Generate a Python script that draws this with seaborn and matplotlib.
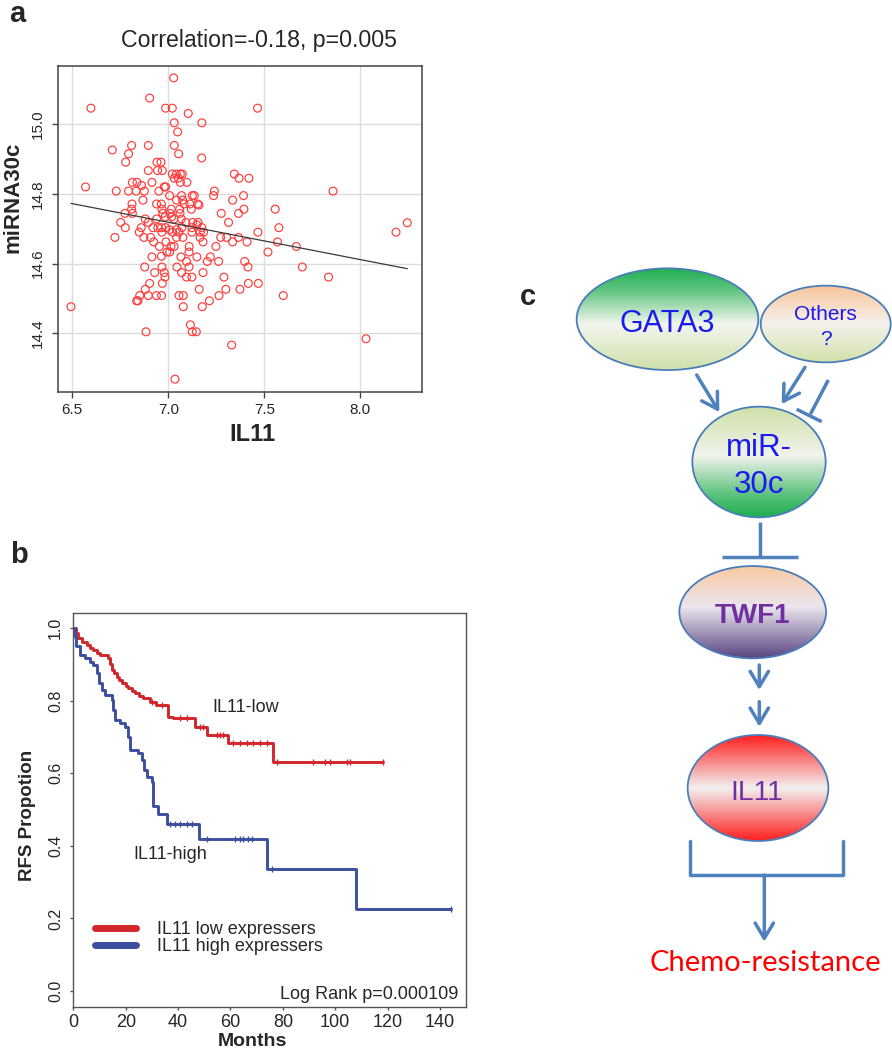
import numpy as np
import matplotlib
matplotlib.use('Agg')
import matplotlib.pyplot as plt
import seaborn as sns
import pandas as pd
from matplotlib.patches import Ellipse, FancyArrowPatch
from matplotlib.colors import LinearSegmentedColormap

sns.set_style('ticks')
plt.rcParams['font.family'] = ['Liberation Sans', 'DejaVu Sans']

# ---- panel a: IL11 vs miRNA30c ----
il11 = [7.028, 6.903, 6.597, 6.986, 7.021, 7.465, 7.104, 7.031, 7.175, 7.049,
        6.708, 6.809, 6.896, 7.031, 6.793, 7.054, 6.778, 7.174, 6.941, 6.962,
        6.896, 6.944, 6.969, 7.021, 7.042, 7.063, 7.073, 7.344, 7.368, 7.420,
        6.569, 6.813, 6.837, 6.861, 6.915, 7.031, 7.052, 7.063, 7.097, 6.986,
        6.979, 6.729, 6.793, 6.833, 6.875, 6.951, 7.240, 7.236, 7.858, 7.125,
        7.135, 7.007, 7.069, 6.868, 6.811, 6.939, 6.964, 7.043, 7.075, 7.153,
        7.160, 7.335, 7.392, 6.809, 6.967, 7.016, 7.083, 7.113, 7.120, 7.276,
        7.366, 7.394, 7.557, 6.774, 6.813, 6.972, 7.009, 7.017, 7.059, 7.061,
        6.752, 6.880, 6.939, 6.984, 7.030, 7.068, 7.092, 7.127, 7.155, 7.314,
        7.576, 6.776, 6.859, 6.896, 6.920, 6.946, 6.965, 6.986, 7.007, 7.043,
        7.071, 7.123, 7.149, 7.175, 7.467, 6.722, 6.849, 6.873, 6.908, 6.967,
        7.023, 7.056, 7.076, 7.123, 7.167, 7.184, 7.273, 7.304, 7.366, 7.043,
        7.165, 6.924, 6.988, 7.030, 7.181, 7.335, 7.410, 7.569, 7.667, 6.953,
        7.014, 7.109, 7.248, 7.519, 6.993, 7.007, 6.964, 6.915, 7.108, 7.149,
        7.219, 7.066, 7.095, 7.203, 7.262, 7.398, 6.877, 6.967, 7.045, 7.108,
        7.415, 7.698, 6.929, 6.979, 7.069, 7.181, 6.983, 7.095, 7.123, 7.290,
        7.835, 6.903, 6.969, 7.417, 7.469, 6.880, 7.161, 7.300, 7.373, 6.851,
        6.896, 6.938, 6.965, 7.056, 7.078, 7.264, 7.599, 6.835, 6.842, 7.214,
        6.493, 7.078, 7.177, 7.115, 7.125, 7.146, 6.884, 7.330, 8.030, 7.035,
        8.186, 8.245]
mir30c = [15.133, 15.075, 15.046, 15.046, 15.046, 15.046, 15.031, 15.004, 15.004, 14.978,
          14.926, 14.939, 14.939, 14.939, 14.915, 14.915, 14.891, 14.903, 14.891, 14.891,
          14.867, 14.867, 14.867, 14.857, 14.857, 14.857, 14.857, 14.857, 14.845, 14.845,
          14.820, 14.833, 14.833, 14.824, 14.833, 14.845, 14.845, 14.833, 14.833, 14.820,
          14.820, 14.808, 14.808, 14.808, 14.808, 14.808, 14.808, 14.795, 14.808, 14.795,
          14.795, 14.795, 14.795, 14.782, 14.771, 14.771, 14.771, 14.782, 14.782, 14.771,
          14.768, 14.782, 14.795, 14.756, 14.756, 14.756, 14.771, 14.771, 14.756, 14.744,
          14.744, 14.756, 14.756, 14.744, 14.744, 14.744, 14.744, 14.734, 14.756, 14.744,
          14.718, 14.728, 14.728, 14.734, 14.728, 14.728, 14.718, 14.718, 14.718, 14.718,
          14.703, 14.703, 14.703, 14.718, 14.703, 14.703, 14.703, 14.703, 14.697, 14.697,
          14.703, 14.703, 14.711, 14.703, 14.690, 14.675, 14.690, 14.675, 14.675, 14.690,
          14.690, 14.690, 14.675, 14.690, 14.690, 14.690, 14.675, 14.675, 14.675, 14.675,
          14.675, 14.662, 14.662, 14.649, 14.662, 14.662, 14.662, 14.662, 14.649, 14.649,
          14.649, 14.649, 14.649, 14.633, 14.633, 14.633, 14.621, 14.619, 14.633, 14.619,
          14.619, 14.619, 14.606, 14.606, 14.606, 14.606, 14.590, 14.590, 14.590, 14.590,
          14.590, 14.590, 14.574, 14.574, 14.574, 14.574, 14.561, 14.561, 14.561, 14.561,
          14.561, 14.543, 14.543, 14.543, 14.543, 14.526, 14.526, 14.526, 14.526, 14.508,
          14.508, 14.508, 14.508, 14.508, 14.508, 14.508, 14.508, 14.493, 14.493, 14.493,
          14.476, 14.476, 14.476, 14.424, 14.404, 14.404, 14.404, 14.366, 14.384, 14.268,
          14.690, 14.717]
a_xticks = [6.5, 7.0, 7.5, 8.0]
a_yticks = [14.4, 14.6, 14.8, 15.0]

# ---- panel b: Kaplan-Meier RFS ----
low_t = [0, 1.0, 1.9, 3.5, 5.1, 6.5, 7.6, 9.0, 10.2, 13.4, 14.2, 14.7, 15.5, 16.6, 17.5,
         18.5, 20.0, 21.0, 22.3, 23.6, 25.0, 26.7, 29.3, 31.5, 36.3, 38.2, 46.5, 50.9, 59.2, 76.3]
low_s = [1.0, 0.985, 0.972, 0.962, 0.953, 0.946, 0.939, 0.932, 0.926, 0.917, 0.900, 0.884, 0.875,
         0.866, 0.857, 0.848, 0.841, 0.834, 0.827, 0.820, 0.813, 0.806, 0.797, 0.788, 0.756,
         0.751, 0.728, 0.705, 0.682, 0.632]
low_end = 118.4
low_cens = [30, 34, 40.7, 43.3, 48.4, 49.6, 54.7, 56, 57.3, 61.1, 63.6, 66.2, 68.7, 71.3,
            73.8, 77.6, 91.6, 96.1, 98, 104.4, 105.6, 118.4]

high_t = [0, 0.6, 1.0, 2.6, 4.5, 6.4, 7.6, 8.9, 9.9, 10.8, 12.1, 14.7, 15.3, 15.9, 17.8,
          19.7, 21.0, 21.6, 24.8, 26.1, 26.9, 28.0, 29.9, 30.5, 32.5, 35.6, 48.1, 73.8, 107.9]
high_s = [1.0, 0.976, 0.949, 0.926, 0.917, 0.907, 0.898, 0.875, 0.848, 0.829, 0.815, 0.802,
          0.774, 0.747, 0.737, 0.728, 0.700, 0.664, 0.655, 0.636, 0.610, 0.590, 0.575, 0.509,
          0.489, 0.461, 0.418, 0.337, 0.226]
high_end = 144.1
high_cens = [36.9, 38.8, 40.7, 43.3, 45.2, 50.9, 61.7, 63.6, 64.9, 66.8, 68.1, 75.7, 144.1]

b_xticks = [0, 20, 40, 60, 80, 100, 120, 140]
b_yticks = [0.0, 0.2, 0.4, 0.6, 0.8, 1.0]
group_names = ['IL11 low expressers', 'IL11 high expressers']
RED, BLUE = '#d1262c', '#3c4e9f'

W, H = 892, 1050
fig = plt.figure(figsize=(W / 100, H / 100), dpi=100)


def frac(l, t, r, b):
    return [l / W, 1 - b / H, (r - l) / W, (b - t) / H]


ax_a = fig.add_axes(frac(57.7, 65.7, 421.7, 391.7))
ax_b = fig.add_axes(frac(73.3, 612.7, 465.7, 1006.7))
ov = fig.add_axes([0, 0, 1, 1], zorder=5)
ov.patch.set_alpha(0)

# panel a
ax_a.grid(True, color='#dcdcdc', lw=1.0)
ax_a.set_axisbelow(True)
sns.scatterplot(x=il11, y=mir30c, ax=ax_a, marker='o', s=32, facecolors='none',
                edgecolors='#ff3b3b', linewidth=0.85, zorder=3)
sns.regplot(x=il11, y=mir30c, ax=ax_a, scatter=False, ci=None, truncate=True,
            line_kws=dict(color='#3a3a3a', lw=0.9, zorder=4))
ax_a.set_xlim(6.424, 8.320)
ax_a.set_ylim(14.232, 15.168)
ax_a.set_xticks(a_xticks)
ax_a.set_xticklabels([f'{v:.1f}' for v in a_xticks])
ax_a.set_yticks(a_yticks)
ax_a.set_yticklabels([f'{v:.1f}' for v in a_yticks], rotation=90, va='center')
ax_a.tick_params(direction='out', length=4.3, width=1, color='#444444', labelsize=11)
ax_a.tick_params(axis='x', pad=4)
ax_a.tick_params(axis='y', pad=5)
ax_a.set_xlabel('')
ax_a.set_ylabel('')
for sp in ax_a.spines.values():
    sp.set_visible(True)
    sp.set_color('#444444')
    sp.set_linewidth(1.1)

# panel b
km = []
for name, t, s, end in [(group_names[0], low_t, low_s, low_end),
                        (group_names[1], high_t, high_s, high_end)]:
    km.append(pd.DataFrame({'months': list(t) + [end], 'surv': list(s) + [s[-1]], 'group': name}))
km = pd.concat(km, ignore_index=True)
sns.lineplot(data=km, x='months', y='surv', hue='group', palette=[RED, BLUE],
             estimator=None, sort=False, drawstyle='steps-post', lw=2.1, ax=ax_b, legend=False)


def surv_at(times, t, s):
    idx = np.searchsorted(np.array(t), np.array(times), side='right') - 1
    return np.array(s)[idx]


for cens, t, s, col in [(low_cens, low_t, low_s, RED), (high_cens, high_t, high_s, BLUE)]:
    ax_b.plot(cens, surv_at(cens, t, s), ls='none', marker='|', ms=5, mew=1.0, color=col)

ax_b.set_xlim(0, 149.8)
ax_b.set_ylim(-0.043, 1.042)
ax_b.set_xticks(b_xticks)
ax_b.set_yticks(b_yticks)
ax_b.set_yticklabels([f'{v:.1f}' for v in b_yticks], rotation=90, va='center')
ax_b.tick_params(direction='out', length=2.5, width=1, color='#555555')
ax_b.tick_params(axis='x', labelsize=13, pad=3)
ax_b.tick_params(axis='y', labelsize=11.5, pad=5)
ax_b.set_xlabel('')
ax_b.set_ylabel('')
for sp in ax_b.spines.values():
    sp.set_visible(True)
    sp.set_color('#555555')
    sp.set_linewidth(1.0)
ax_b.text(66.0, 0.768, 'IL11-low', ha='center', va='baseline', fontsize=13)
ax_b.text(37.0, 0.364, 'IL11-high', ha='center', va='baseline', fontsize=13)
ax_b.text(147.0, -0.023, 'Log Rank p=0.000109', ha='right', va='baseline', fontsize=13)

# overlay in pixel coordinates: labels, legend and panel c diagram
ov.set_xlim(0, W)
ov.set_ylim(H, 0)

for lab, x, y in [('a', 17.5, 22.5), ('b', 18.5, 562.6), ('c', 527.5, 305)]:
    ov.text(x, y, lab, fontsize=21, fontweight='bold', ha='center', va='baseline')

ov.text(258.7, 46.5, 'Correlation=-0.18, p=0.005', fontsize=16.7, ha='center', va='baseline')
ov.text(252.3, 440.7, 'IL11', fontsize=17, fontweight='bold', ha='center', va='baseline')
ov.text(13.5, 197.5, 'miRNA30c', fontsize=16, fontweight='bold', rotation=90, ha='center', va='center')
ov.text(28, 815, 'RFS Propotion', fontsize=13.5, fontweight='bold', rotation=90, ha='center', va='center')
ov.text(252.7, 1033, 'Months', fontsize=14, fontweight='bold', ha='center', va='top')

for name, col, yy in [(group_names[0], RED, 928), (group_names[1], BLUE, 945)]:
    ov.plot([95.2, 135.8], [yy, yy], color=col, lw=5, solid_capstyle='round')
    ov.text(157.3, yy + 6.2, name, fontsize=13, ha='left', va='baseline')

ARROW = '#4f81bd'
EDGE = '#4a7ebb'


def grad_ellipse(cx, cy, w, h, stops):
    cmap = LinearSegmentedColormap.from_list('g', stops)
    grad = np.linspace(0, 1, 256).reshape(-1, 1)
    e = Ellipse((cx, cy), w, h, facecolor='none', edgecolor=EDGE, lw=1.3, zorder=3)
    ov.add_patch(e)
    im = ov.imshow(grad, cmap=cmap, extent=(cx - w / 2, cx + w / 2, cy + h / 2, cy - h / 2),
                   aspect='auto', origin='upper', zorder=2, interpolation='bilinear')
    im.set_clip_path(e)


grad_ellipse(667.5, 319.2, 181.7, 101.7,
             [(0, '#1fae4f'), (0.22, '#62c482'), (0.55, '#f3f6ee'), (1, '#cfe0a8')])
grad_ellipse(825.7, 324.0, 130.0, 76.7,
             [(0, '#f9c39a'), (0.5, '#f5f1ec'), (1, '#d2e2aa')])
grad_ellipse(759.0, 462.0, 133.3, 110.7,
             [(0, '#cfe0a8'), (0.45, '#f1f3ec'), (0.78, '#62c482'), (1, '#1fae4f')])
grad_ellipse(752.7, 612.2, 146.7, 92.3,
             [(0, '#fbc9a0'), (0.45, '#ebe6ee'), (1, '#5a4683')])
grad_ellipse(758.0, 788.0, 140.7, 106.0,
             [(0, '#ff1e1e'), (0.5, '#f2f0f0'), (1, '#ff1e1e')])


def arrow(p0, p1):
    ov.add_patch(FancyArrowPatch(p0, p1, arrowstyle='->,head_length=0.55,head_width=0.33',
                                 mutation_scale=20, color=ARROW, lw=2.5,
                                 shrinkA=0, shrinkB=0, zorder=4))


def seg(p0, p1):
    ov.plot([p0[0], p1[0]], [p0[1], p1[1]], color=ARROW, lw=2.5, solid_capstyle='butt', zorder=4)


arrow((696.7, 375), (719.3, 412.0))
arrow((805.0, 367.3), (781.7, 404.0))
seg((828.3, 380), (810.5, 414.0))
seg((796.7, 409.3), (821.7, 421.7))
seg((760, 521.7), (760, 556.7))
seg((721.7, 556.7), (797.7, 556.7))
arrow((759.3, 665), (759.3, 690))
arrow((759.3, 701.7), (759.3, 726.7))
ov.plot([690, 690, 842.7, 842.7], [840.7, 875, 875, 840.7], color=ARROW, lw=2.5, zorder=4)
arrow((764.3, 875), (764.3, 941.7))

BLUE_TXT = '#1a1aee'
PURPLE = '#7030a0'
ov.text(667.5, 331.7, 'GATA3', fontsize=22, color=BLUE_TXT, ha='center', va='baseline', zorder=6)
ov.text(825.7, 320.0, 'Others', fontsize=15, color=BLUE_TXT, ha='center', va='baseline', zorder=6)
ov.text(826.0, 345.0, '?', fontsize=15, color=BLUE_TXT, ha='center', va='baseline', zorder=6)
ov.text(758.8, 456.0, 'miR-', fontsize=22.5, color=BLUE_TXT, ha='center', va='baseline', zorder=6)
ov.text(759.2, 492.7, '30c', fontsize=22.5, color=BLUE_TXT, ha='center', va='baseline', zorder=6)
ov.text(752.8, 623.3, 'TWF1', fontsize=20, fontweight='bold', color=PURPLE, ha='center', va='baseline', zorder=6)
ov.text(756.7, 800.0, 'IL11', fontsize=20.3, color=PURPLE, ha='center', va='baseline', zorder=6)
ov.text(765.3, 970.7, 'Chemo-resistance', fontsize=21, color='#ff0000', family=['Lato', 'DejaVu Sans'],
        ha='center', va='baseline', zorder=6)

ov.set_xlim(0, W)
ov.set_ylim(H, 0)
ov.axis('off')

fig.savefig('out.png', dpi=100)
